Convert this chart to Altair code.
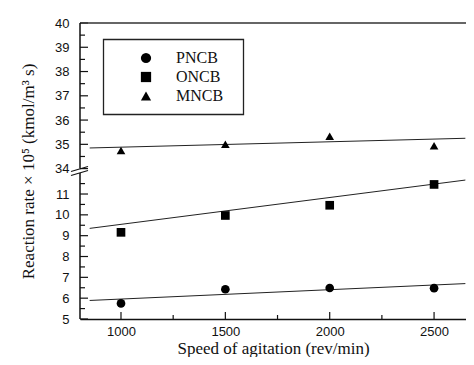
import altair as alt
import pandas as pd

# ---------------- data ----------------
speed = [1000, 1500, 2000, 2500]
series = ["PNCB", "ONCB", "MNCB"]
shapes = ["circle", "square", "triangle-up"]
pncb = [5.75, 6.43, 6.49, 6.48]
oncb = [9.16, 9.97, 10.46, 11.46]
mncb = [34.75, 35.00, 35.33, 34.94]

fit_x = [850, 2650]
fit_pncb = [5.89, 6.70]
fit_oncb = [9.35, 11.67]
fit_mncb = [34.85, 35.25]

x_major = [1000, 1500, 2000, 2500]
x_minor = [1250, 1750, 2250]
y_lower_major = [5, 6, 7, 8, 9, 10, 11]
y_upper_major = [34, 35, 36, 37, 38, 39, 40]
y_lower_minor = [5.5, 6.5, 7.5, 8.5, 9.5, 10.5, 11.5]
y_upper_minor = [34.5, 35.5, 36.5, 37.5, 38.5, 39.5]

# ---------------- broken-axis mapping ----------------
UP_BASE = 12.22    # where 34 sits on the lower-segment scale
UP_SCALE = 1.165   # upper segment is stretched relative to lower
Y_TOP = 19.21
W, H = 386, 296

yexpr = f"datum.v < 20 ? datum.v : {UP_BASE} + (datum.v - 34) * {UP_SCALE}"

def yval(v):
    return v if v < 20 else UP_BASE + (v - 34) * UP_SCALE

pts = pd.DataFrame({
    "speed": speed * 3,
    "v": pncb + oncb + mncb,
    "series": [s for s in series for _ in speed],
})
fits = pd.DataFrame({
    "speed": fit_x * 3,
    "v": fit_pncb + fit_oncb + fit_mncb,
    "series": [s for s in series for _ in fit_x],
})
ymaj = pd.DataFrame({"v": y_lower_major + y_upper_major})
ymin = pd.DataFrame({"v": y_lower_minor + y_upper_minor})
xmaj = pd.DataFrame({"speed": x_major})
xmin = pd.DataFrame({"speed": x_minor})

xscale = alt.Scale(domain=[803.6, 2653], nice=False, zero=False)
yscale = alt.Scale(domain=[5, Y_TOP], nice=False, zero=False)

axis_values = [yval(v) for v in y_lower_major + y_upper_major]
label_expr = (f"datum.value < 12 ? format(datum.value, 'd') : "
              f"format(round(34 + (datum.value - {UP_BASE}) / {UP_SCALE}), 'd')")

X = alt.X("speed:Q", scale=xscale, axis=alt.Axis(
    values=x_major, format="d", ticks=False, grid=False, domain=True,
    domainColor="#111", domainWidth=1.5,
    labelFont="Liberation Sans", labelFontSize=13, labelColor="#111",
    labelPadding=6, title="Speed of agitation (rev/min)",
    titleFont="Liberation Serif", titleFontSize=17, titleFontWeight="normal",
    titleColor="#111", titleBaseline="alphabetic", titleY=34))
Y = alt.Y("yt:Q", scale=yscale, axis=alt.Axis(
    values=axis_values, labelExpr=label_expr, ticks=False, grid=False,
    domain=False, labelFont="Liberation Sans", labelFontSize=13,
    labelColor="#111", labelPadding=11,
    title="Reaction rate × 10⁵ (kmol/m³ s)",
    titleFont="Liberation Serif", titleFontSize=17, titleFontWeight="normal",
    titleColor="#111", titlePadding=17))

points = alt.Chart(pts).transform_calculate(yt=yexpr).mark_point(
    filled=True, color="black", opacity=1, size=75
).encode(
    x=X, y=Y,
    shape=alt.Shape("series:N", scale=alt.Scale(domain=series, range=shapes),
                    legend=alt.Legend(
                        orient="none", legendX=58, legendY=27, title=None,
                        labelFont="Liberation Serif", labelFontSize=16,
                        labelColor="#111", symbolSize=105,
                        symbolFillColor="black", symbolStrokeColor="black",
                        symbolStrokeWidth=0, rowPadding=3, labelOffset=22,
                        padding=0)),
)

lines = alt.Chart(fits).transform_calculate(yt=yexpr).mark_line(
    color="#222", strokeWidth=1
).encode(x=X, y=Y, detail="series:N")

one = alt.Data(values=[{"a": 1}])

ytick_major = alt.Chart(ymaj).transform_calculate(yt=yexpr).mark_rule(
    color="#111", strokeWidth=1.2).encode(y=Y, x=alt.value(0), x2=alt.value(8))
ytick_minor = alt.Chart(ymin).transform_calculate(yt=yexpr).mark_rule(
    color="#111", strokeWidth=1.2).encode(y=Y, x=alt.value(0), x2=alt.value(5))
xtick_major = alt.Chart(xmaj).mark_rule(color="#111", strokeWidth=1.2).encode(
    x=X, y=alt.value(H), y2=alt.value(H - 7))
xtick_minor = alt.Chart(xmin).mark_rule(color="#111", strokeWidth=1.2).encode(
    x=X, y=alt.value(H), y2=alt.value(H - 4))

top_line = alt.Chart(one).mark_rule(color="#333", strokeWidth=1.5).encode(
    x=alt.value(0), x2=alt.value(W), y=alt.value(0))
axis_up = alt.Chart(one).mark_rule(color="#111", strokeWidth=1.5).encode(
    x=alt.value(0), y=alt.value(0), y2=alt.value(145.5))
axis_lo = alt.Chart(one).mark_rule(color="#111", strokeWidth=1.5).encode(
    x=alt.value(0), y=alt.value(150), y2=alt.value(H))
slash1 = alt.Chart(one).mark_rule(color="#111", strokeWidth=1.2).encode(
    x=alt.value(-9), x2=alt.value(8), y=alt.value(148.5), y2=alt.value(143.5))
slash2 = alt.Chart(one).mark_rule(color="#111", strokeWidth=1.2).encode(
    x=alt.value(-9), x2=alt.value(8), y=alt.value(152.5), y2=alt.value(147.5))
legend_box = alt.Chart(one).mark_rect(filled=False, stroke="#222",
                                      strokeWidth=1.3).encode(
    x=alt.value(23.5), x2=alt.value(163.5), y=alt.value(16.5), y2=alt.value(91.5))

chart = alt.layer(
    lines, points, ytick_major, ytick_minor, xtick_major, xtick_minor,
    top_line, axis_up, axis_lo, slash1, slash2, legend_box
).properties(
    width=W, height=H, autosize="none",
    padding={"left": 72, "top": 15, "right": 0, "bottom": 38},
    background="white",
).configure_view(stroke=None)

chart.save("out.html", embed_options={"renderer": "svg", "actions": False})
